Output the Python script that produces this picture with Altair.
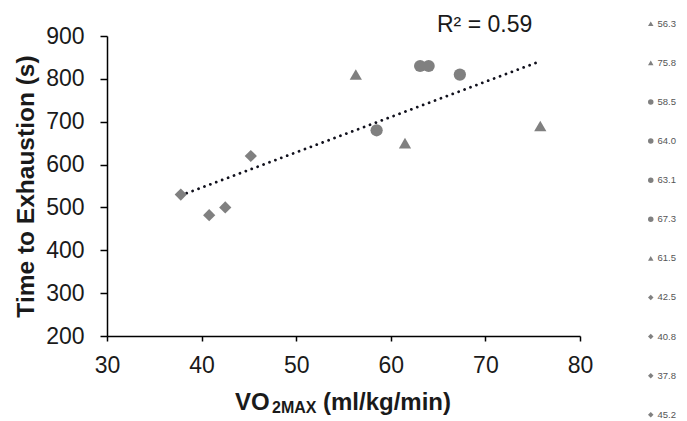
import altair as alt
import pandas as pd

# ---- data ----
labels = ["56.3", "75.8", "58.5", "64.0", "63.1", "67.3", "61.5", "42.5", "40.8", "37.8", "45.2"]
vo2 = [56.3, 75.8, 58.5, 64.0, 63.1, 67.3, 61.5, 42.5, 40.8, 37.8, 45.2]
time_s = [810, 690, 680, 830, 830, 810, 650, 500, 482, 530, 620]
shape_names = ["triangle-up", "triangle-up", "circle", "circle", "circle", "circle",
               "triangle-up", "diamond", "diamond", "diamond", "diamond"]
x_ticks = [30, 40, 50, 60, 70, 80]
y_ticks = [200, 300, 400, 500, 600, 700, 800, 900]
r2_label = ["R\u00b2 = 0.59"]
y_title = "Time to Exhaustion (s)"
x_title_main = ["VO"]
x_title_sub = ["2MAX"]
x_title_rest = ["(ml/kg/min)"]

df = pd.DataFrame({"label": labels, "vo2": vo2, "time": time_s})

FONT = "Liberation Sans"
GRAY = "#808080"
INK = "#1a1a1a"

x_enc = alt.X("vo2:Q",
              scale=alt.Scale(domain=[x_ticks[0], x_ticks[-1]], nice=False, zero=False),
              axis=alt.Axis(values=x_ticks, title=None, grid=False, labelFontSize=23,
                            labelFont=FONT, labelColor=INK, tickSize=5, labelPadding=13,
                            domainColor="black", tickColor="black", domainWidth=1.5,
                            tickWidth=1.5, labelFlush=False))
y_enc = alt.Y("time:Q",
              scale=alt.Scale(domain=[y_ticks[0], y_ticks[-1]], nice=False, zero=False),
              axis=alt.Axis(values=y_ticks, title=y_title, grid=False, labelFontSize=23,
                            labelFont=FONT, labelColor=INK, tickSize=7, labelPadding=16,
                            domainColor="black", tickColor="black", domainWidth=1.5,
                            tickWidth=1.5, titleFont=FONT, titleFontSize=24.5,
                            titleFontWeight="bold", titleColor=INK, titlePadding=7,
                            labelFlush=False))

points = alt.Chart(df).mark_point(filled=True, size=150, opacity=1).encode(
    x=x_enc,
    y=y_enc,
    color=alt.value(GRAY),
    shape=alt.Shape("label:N",
                    scale=alt.Scale(domain=labels, range=shape_names),
                    legend=alt.Legend(title=None, orient="none", legendX=539, legendY=-17,
                                      labelFont=FONT, labelFontSize=9.5, labelColor="#555555",
                                      symbolSize=30, symbolFillColor=GRAY,
                                      symbolStrokeColor=GRAY, symbolStrokeWidth=0,
                                      rowPadding=28.1, labelOffset=2, padding=0)),
)

trend = alt.Chart(df).transform_regression("vo2", "time").mark_line(
    color="#10101c", strokeWidth=2.8, strokeDash=[0.01, 6.3], strokeCap="round"
).encode(x="vo2:Q", y="time:Q")

r2 = alt.Chart(pd.DataFrame({"t": r2_label})).mark_text(
    font=FONT, fontSize=23, color=INK, align="left", baseline="alphabetic"
).encode(text="t:N", x=alt.value(330), y=alt.value(-4))

xt1 = alt.Chart(pd.DataFrame({"t": x_title_main})).mark_text(
    font=FONT, fontSize=24, fontWeight="bold", color=INK, align="left", baseline="alphabetic"
).encode(text="t:N", x=alt.value(128), y=alt.value(374))
xt2 = alt.Chart(pd.DataFrame({"t": x_title_sub})).mark_text(
    font=FONT, fontSize=16, fontWeight="bold", color=INK, align="left", baseline="alphabetic"
).encode(text="t:N", x=alt.value(165), y=alt.value(377))
xt3 = alt.Chart(pd.DataFrame({"t": x_title_rest})).mark_text(
    font=FONT, fontSize=24, fontWeight="bold", color=INK, align="left", baseline="alphabetic"
).encode(text="t:N", x=alt.value(216), y=alt.value(374))

chart = alt.layer(trend, points, r2, xt1, xt2, xt3).properties(
    width=473, height=300,
    autosize=alt.AutoSizeParams(type="none"),
    padding={"left": 99, "top": 28, "right": 99, "bottom": 85},
).configure_view(stroke=None)

chart.save("out.html", embed_options={"renderer": "svg", "actions": False})
